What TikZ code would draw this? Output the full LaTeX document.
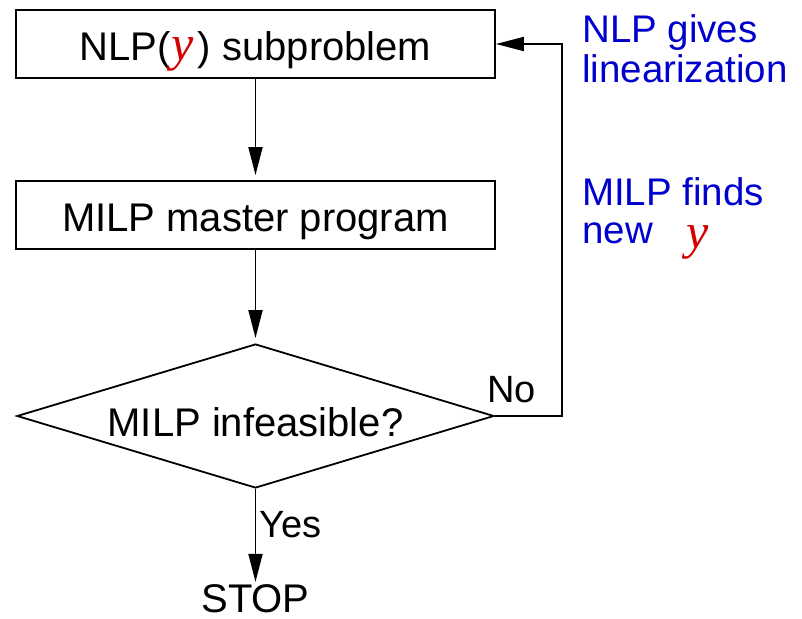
\documentclass[tikz,border=0pt]{standalone}
\usepackage{fontspec}
\setmainfont{Liberation Sans}
\newfontfamily\varfont{Liberation Serif}
\usetikzlibrary{shapes.geometric,arrows.meta}
\definecolor{labelblue}{RGB}{0,0,205}
\definecolor{varred}{RGB}{215,0,0}
% the integer variable y, set in a large red italic serif
\newcommand{\vary}{{\color{varred}\varfont\itshape\fontsize{50}{50}\selectfont y}}
\begin{document}
\begin{tikzpicture}[x=1pt,y=-1pt,
  bigtext/.style={font=\fontsize{40}{40}\selectfont},
  notetext/.style={font=\fontsize{38.5}{38.5}\selectfont, text=labelblue, inner sep=0pt, anchor=base west},
  flowbox/.style={draw, line width=1.8pt, minimum width=479pt, minimum height=68pt,
    inner sep=0pt, text height=33pt, text depth=0pt, bigtext},
  decision/.style={draw, diamond, line width=1.8pt, aspect=3.3, minimum width=477pt,
    minimum height=144pt, inner sep=0pt, text height=40pt, text depth=0pt, bigtext},
  edgelabel/.style={bigtext, font=\fontsize{38}{38}\selectfont, inner sep=0pt, anchor=base west},
  flowarrow/.style={line width=1.8pt, -{Triangle[length=28pt,width=14pt]}}]
\useasboundingbox (0,0) rectangle (802,618);

% main flow
\node[flowbox] (nlp) at (255.5,44) {NLP(\kern1pt\vary\kern4pt) subproblem};
\node[flowbox] (milp) at (255.5,215) {MILP master program};
\node[decision] (dec) at (255.5,416) {MILP infeasible?};
\node[bigtext, inner sep=2pt, text depth=0pt, anchor=base] (stop) at (255.5,612) {STOP};

\draw[flowarrow, shorten >=5pt] (nlp.south) -- (milp.north);
\draw[flowarrow, shorten >=5pt] (milp.south) -- (dec.north);
\draw[flowarrow] (dec.south) -- (stop.north);

% feedback loop back to the NLP subproblem
\coordinate (loopx) at (562,416);
\draw[flowarrow] (dec.east) -- (loopx) |- (nlp.east);

% branch labels
\node[edgelabel] (yes) at (259,537) {Yes};
\node[edgelabel] (no) at (487,402) {No};

% side notes
\node[notetext] (note1a) at (582,42) {NLP gives};
\node[notetext] (note1b) at (582,82) {linearization};
\node[notetext] (note2a) at (582,205) {MILP finds};
\node[notetext] (note2b) at (582,243) {new\hspace{34pt}\raisebox{-5pt}{\vary}};
\end{tikzpicture}
\end{document}
